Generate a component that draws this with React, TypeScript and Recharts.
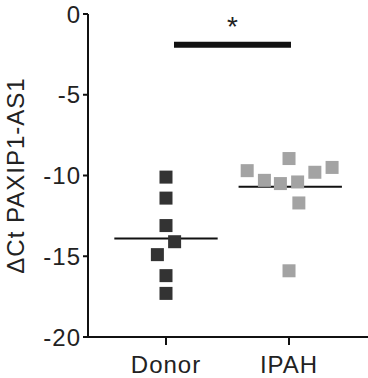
import {
  Label,
  ReferenceLine,
  Scatter,
  ScatterChart,
  XAxis,
  YAxis
} from "recharts";

const groups = ["Donor", "IPAH"];
const groupTicks = [1, 2];

// x = group position (with the jitter seen in the figure), y = ΔCt
const donorX = [1, 1, 1, 1.07, 0.93, 1, 1];
const donorY = [-10.1, -11.4, -13.1, -14.1, -14.9, -16.2, -17.3];
const ipahX = [1.66, 1.8, 2.0, 1.93, 2.07, 2.21, 2.35, 2.08, 2.0];
const ipahY = [-9.7, -10.3, -8.95, -10.5, -10.4, -9.8, -9.5, -11.7, -15.9];

const donorLine = { from: 0.58, to: 1.42, y: -13.9 };
const ipahLine = { from: 1.59, to: 2.43, y: -10.7 };
const sigBar = { from: 1.065, to: 2.016, y: -1.9, label: "*" };

const yTicks = [0, -5, -10, -15, -20];

const donor = donorX.map((x, i) => ({ x, y: donorY[i] }));
const ipah = ipahX.map((x, i) => ({ x, y: ipahY[i] }));

const font = "'Liberation Sans', Arial, sans-serif";
const textStyle = { fill: "#222", fontSize: 24, fontFamily: font, letterSpacing: 1 };

// square marker, 13px side, centred on the scaled point
const Square = (props: any) => (
  <rect x={props.cx - 6.5} y={props.cy - 6.5} width={13} height={13} fill={props.fill} />
);

export default function App() {
  return (
    <div style={{ position: "absolute", left: 0, top: 0, background: "#fff", fontFamily: font }}>
      <ScatterChart width={368} height={378} margin={{ top: 14, right: 0, bottom: 0, left: 0 }}>
        <XAxis
          type="number"
          dataKey="x"
          domain={[0.366, 2.642]}
          ticks={groupTicks}
          tickFormatter={(v) => groups[v - 1]}
          allowDataOverflow
          height={41}
          stroke="#111"
          strokeWidth={2}
          tickSize={8}
          tickMargin={11}
          tick={textStyle}
        />
        <YAxis
          type="number"
          dataKey="y"
          domain={[-20, 0]}
          ticks={yTicks}
          allowDataOverflow
          width={88}
          stroke="#111"
          strokeWidth={2}
          tickSize={5}
          tickMargin={2}
          tick={textStyle}
        >
          <Label
            value="ΔCt PAXIP1-AS1"
            angle={-90}
            position="insideLeft"
            offset={15}
            style={{ ...textStyle, textAnchor: "middle" }}
          />
        </YAxis>
        <ReferenceLine
          segment={[{ x: sigBar.from, y: sigBar.y }, { x: sigBar.to, y: sigBar.y }]}
          stroke="#111"
          strokeWidth={6}
        >
          <Label value={sigBar.label} position="top" offset={9} style={{ fill: "#222", fontSize: 28, fontFamily: font }} />
        </ReferenceLine>
        <Scatter data={donor} fill="#333333" shape={Square} isAnimationActive={false} />
        <Scatter data={ipah} fill="#a3a3a3" shape={Square} isAnimationActive={false} />
        <ReferenceLine
          segment={[{ x: donorLine.from, y: donorLine.y }, { x: donorLine.to, y: donorLine.y }]}
          stroke="#111"
          strokeWidth={2}
        />
        <ReferenceLine
          segment={[{ x: ipahLine.from, y: ipahLine.y }, { x: ipahLine.to, y: ipahLine.y }]}
          stroke="#111"
          strokeWidth={2}
        />
      </ScatterChart>
    </div>
  );
}
